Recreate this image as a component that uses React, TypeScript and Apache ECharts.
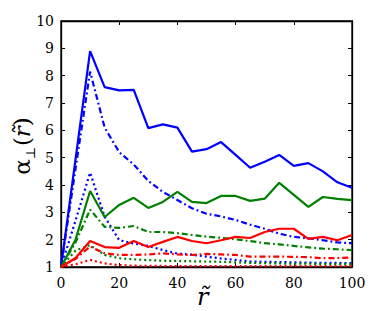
import React, { useEffect, useRef } from "react";
import * as echarts from "echarts";

const xValues = [0, 5, 10, 15, 20, 25, 30, 35, 40, 45, 50, 55, 60, 65, 70, 75, 80, 85, 90, 95, 100];

const blueSolid = [1, 4.95, 8.9, 7.58, 7.46, 7.48, 6.08, 6.22, 6.1, 5.22, 5.31, 5.57, 5.1, 4.63, 4.85, 5.1, 4.7, 4.8, 4.5, 4.1, 3.9];
const blueDashDot = [1, 4.6, 8.15, 6.1, 5.2, 4.75, 4.15, 3.75, 3.45, 3.15, 2.95, 2.85, 2.72, 2.55, 2.4, 2.22, 2.1, 2.05, 1.98, 1.9, 1.87];
const blueDotted = [1, 2.7, 4.45, 2.84, 1.98, 1.86, 1.77, 1.62, 1.49, 1.45, 1.38, 1.31, 1.26, 1.2, 1.19, 1.18, 1.17, 1.16, 1.15, 1.15, 1.14];

const greenSolid = [1, 2.0, 3.78, 2.83, 3.27, 3.53, 3.16, 3.38, 3.75, 3.38, 3.34, 3.6, 3.6, 3.42, 3.5, 4.08, 3.64, 3.2, 3.56, 3.49, 3.45];
const greenDashDot = [1, 1.9, 3.1, 2.47, 2.43, 2.5, 2.28, 2.28, 2.24, 2.17, 2.11, 2.07, 2.01, 1.95, 1.87, 1.83, 1.77, 1.72, 1.67, 1.65, 1.62];
const greenDotted = [1, 1.6, 1.8, 1.44, 1.32, 1.28, 1.25, 1.23, 1.22, 1.21, 1.2, 1.19, 1.17, 1.15, 1.14, 1.13, 1.12, 1.12, 1.11, 1.11, 1.1];

const redSolid = [1, 1.33, 1.95, 1.73, 1.7, 1.95, 1.73, 1.92, 2.1, 1.95, 1.87, 1.98, 2.1, 2.06, 2.28, 2.4, 2.4, 2.03, 2.1, 1.98, 2.17];
const redDashDot = [1, 1.3, 1.75, 1.5, 1.44, 1.44, 1.46, 1.5, 1.46, 1.44, 1.48, 1.46, 1.44, 1.38, 1.38, 1.38, 1.37, 1.36, 1.32, 1.33, 1.35];
const redDotted = [1, 1.1, 1.26, 1.13, 1.07, 1.05, 1.04, 1.04, 1.03, 1.03, 1.03, 1.03, 1.03, 1.03, 1.03, 1.03, 1.03, 1.03, 1.03, 1.03, 1.03];

const BLUE = "#0000ff";
const GREEN = "#008000";
const RED = "#ff0000";

const DASHDOT = [6, 3, 1.8, 3];
const DOTTED = [2, 3];

const FONT = "DejaVu Serif";

function mk(name: string, vals: number[], color: string, type: any) {
  return {
    name,
    type: "line",
    data: vals.map((v, i) => [xValues[i], v]),
    showSymbol: false,
    symbol: "none",
    lineStyle: { color, width: 2.2, type },
    z: 3,
  };
}

export default function App() {
  const ref = useRef<HTMLDivElement>(null);
  useEffect(() => {
    if (!ref.current) return;
    const chart = echarts.init(ref.current, undefined, { renderer: "svg" });
    const tickStyle = { inside: true, length: 4, lineStyle: { color: "#000", width: 1 } };
    const line = { show: true, onZero: false, lineStyle: { color: "#000", width: 1.3 } };
    chart.setOption({
      animation: false,
      backgroundColor: "#fff",
      textStyle: { fontFamily: FONT },
      grid: {
        left: 61,
        right: 30,
        top: 21,
        bottom: 44,
        show: true,
        borderColor: "#000",
        borderWidth: 1.3,
        backgroundColor: "transparent",
      },
      xAxis: [
        {
          type: "value",
          min: 0,
          max: 100,
          interval: 20,
          position: "bottom",
          axisLine: line,
          axisTick: tickStyle,
          splitLine: { show: false },
          axisLabel: { color: "#000", fontFamily: FONT, fontSize: 14, margin: 9 },
        },
        {
          type: "value",
          min: 0,
          max: 100,
          interval: 20,
          position: "top",
          axisLine: line,
          axisTick: tickStyle,
          splitLine: { show: false },
          axisLabel: { show: false },
        },
      ],
      yAxis: [
        {
          type: "value",
          min: 1,
          max: 10,
          interval: 1,
          position: "left",
          axisLine: line,
          axisTick: tickStyle,
          splitLine: { show: false },
          axisLabel: { color: "#000", fontFamily: FONT, fontSize: 14, margin: 7 },
        },
        {
          type: "value",
          min: 1,
          max: 10,
          interval: 1,
          position: "right",
          axisLine: line,
          axisTick: tickStyle,
          splitLine: { show: false },
          axisLabel: { show: false },
        },
      ],
      graphic: [
        {
          type: "text",
          left: 197,
          top: 285,
          style: {
            text: "r\u0303",
            fontFamily: FONT,
            fontStyle: "italic",
            fontSize: 24,
            fill: "#000",
          },
        },
        {
          type: "text",
          x: 22,
          y: 146,
          rotation: Math.PI / 2,
          style: {
            text: "{a|α}{s|⊥}{a|(}{i|r\u0303}{a|)}",
            align: "center",
            verticalAlign: "middle",
            rich: {
              a: { fontFamily: FONT, fontSize: 23, lineHeight: 30, fill: "#000", verticalAlign: "middle" },
              i: { fontFamily: FONT, fontStyle: "italic", fontSize: 23, lineHeight: 30, fill: "#000", verticalAlign: "middle" },
              s: { fontFamily: FONT, fontSize: 13, lineHeight: 30, fill: "#000", verticalAlign: "bottom", padding: [0, 1, 0, 0] },
            },
          },
        },
      ],
      series: [
        mk("bs", blueSolid, BLUE, "solid"),
        mk("bdd", blueDashDot, BLUE, DASHDOT),
        mk("bd", blueDotted, BLUE, DOTTED),
        mk("gs", greenSolid, GREEN, "solid"),
        mk("gdd", greenDashDot, GREEN, DASHDOT),
        mk("gd", greenDotted, GREEN, DOTTED),
        mk("rs", redSolid, RED, "solid"),
        mk("rdd", redDashDot, RED, DASHDOT),
        mk("rd", redDotted, RED, DOTTED),
      ],
    });
    return () => chart.dispose();
  }, []);
  return (
    <div
      ref={ref}
      style={{ position: "fixed", left: 0, top: 0, width: 382, height: 311, background: "#fff" }}
    />
  );
}
